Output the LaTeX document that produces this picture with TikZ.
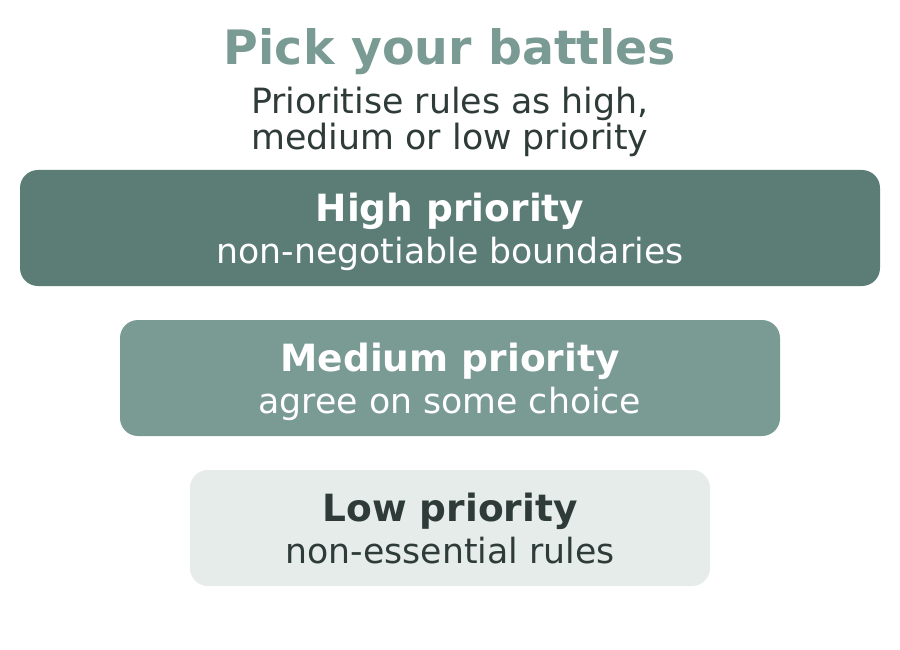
\documentclass[tikz,border=0pt]{standalone}
\usepackage{fontspec}
\setmainfont{DejaVu Sans}
\usetikzlibrary{positioning}
\definecolor{sagedark}{HTML}{5C7D76}
\definecolor{sagemid}{HTML}{7A9A94}
\definecolor{sagelight}{HTML}{E5ECEA}
\definecolor{inkdark}{HTML}{2E3B38}
\tikzset{
  prio/.style={rounded corners=18pt, minimum height=116pt, inner sep=0pt},
  headtxt/.style={anchor=base, inner sep=0pt, font=\bfseries\fontsize{37.5}{42}\selectfont},
  subtxt/.style={anchor=base, inner sep=0pt, font=\fontsize{34.7}{40}\selectfont},
}
\begin{document}
\begin{tikzpicture}[x=1pt,y=-1pt]
        % Canvas
        \useasboundingbox (0,0) rectangle (900,650);
        \fill[white] (0,0) rectangle (900,650);

        %%HEADER
        \node[anchor=base, inner sep=0pt, text=sagemid, font=\bfseries\fontsize{47.4}{52}\selectfont] (title) at (450,64.5) {Pick your battles};
        \node[anchor=base, inner sep=0pt, text=inkdark, font=\fontsize{34.8}{36}\selectfont] (sub1) at (450,114) {Prioritise rules as high,};
        \node[anchor=base, inner sep=0pt, text=inkdark, font=\fontsize{34.8}{36}\selectfont] (sub2) at (450,149.5) {medium or low priority};

        %%BOXES
        % High
        \node[prio, fill=sagedark, minimum width=860pt] (high) at (450,228) {};
        \node[headtxt, text=white] (highH) at ([yshift=-52pt]high.north) {High priority};
        \node[subtxt, text=white] (highS) at ([yshift=-94pt]high.north) {non-negotiable boundaries};
        % Medium
        \node[prio, fill=sagemid, minimum width=660pt] (medium) at (450,378) {};
        \node[headtxt, text=white] (mediumH) at ([yshift=-52pt]medium.north) {Medium priority};
        \node[subtxt, text=white] (mediumS) at ([yshift=-94pt]medium.north) {agree on some choice};
        % Low
        \node[prio, fill=sagelight, minimum width=520pt] (low) at (450,528) {};
        \node[headtxt, text=inkdark] (lowH) at ([yshift=-52pt]low.north) {Low priority};
        \node[subtxt, text=inkdark] (lowS) at ([yshift=-94pt]low.north) {non-essential rules};
\end{tikzpicture}
\end{document}
